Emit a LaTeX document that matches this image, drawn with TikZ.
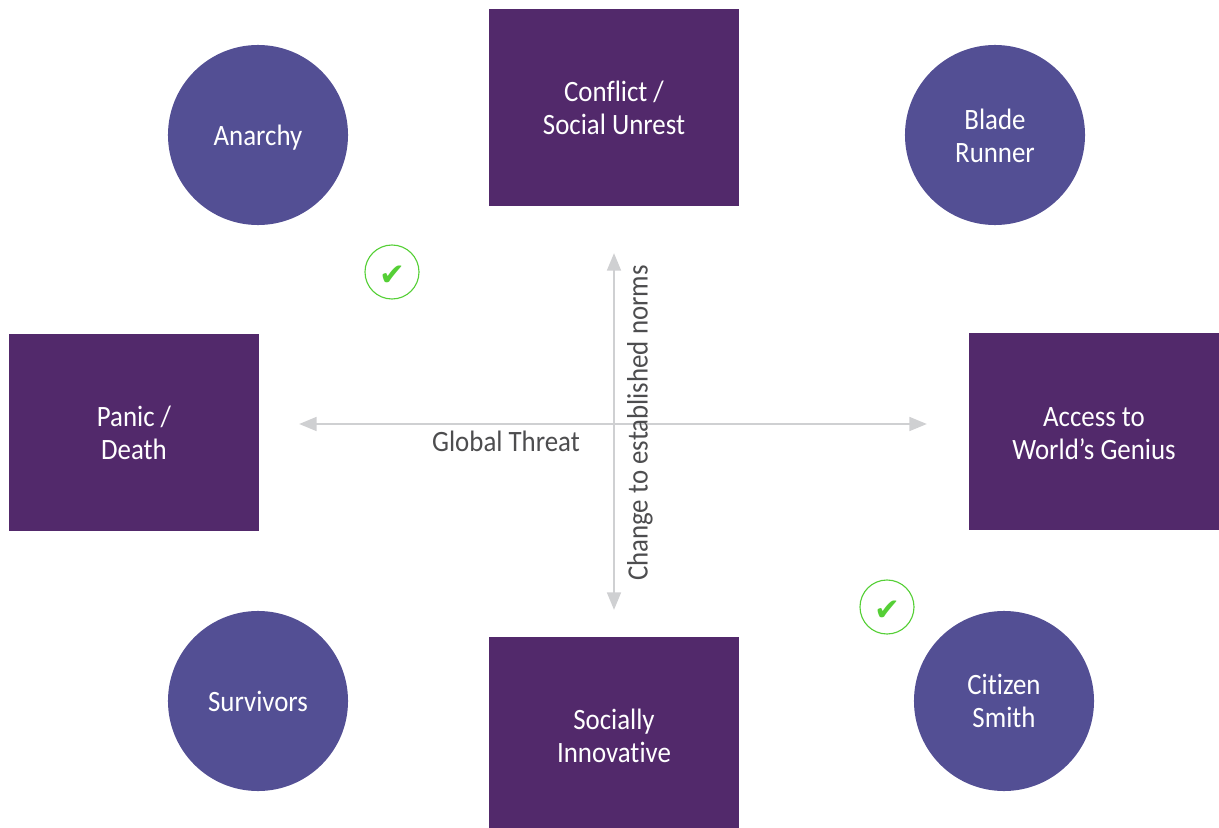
\documentclass[tikz,border=0pt]{standalone}
\usepackage{fontspec}
\usepackage{xcolor}
\setmainfont{Carlito}[FakeStretch=0.91,Ligatures=NoCommon]
\newfontfamily\symbolfont{DejaVu Sans}
\usetikzlibrary{arrows.meta}
\definecolor{boxpurple}{HTML}{52296B}
\definecolor{circleblue}{HTML}{534F94}
\definecolor{axisgray}{HTML}{CFD0D2}
\definecolor{labelgray}{HTML}{4D4D4F}
\definecolor{checkgreen}{HTML}{55CF36}

\begin{document}
\begin{tikzpicture}[
    x=0.025cm, y=-0.025cm,
    factor/.style={rectangle, fill=boxpurple, text=white, minimum width=6.25cm, minimum height=4.925cm, align=center, font=\fontsize{21}{23.5}\selectfont},
    scenario/.style={circle, fill=circleblue, text=white, minimum size=4.5cm, align=center, font=\fontsize{21}{23.5}\selectfont},
    tick/.style={circle, draw=checkgreen, thick, text=checkgreen, minimum size=1.35cm, inner sep=0pt, text height=19pt, text depth=0pt, font=\symbolfont\fontsize{22}{22}\selectfont},
    axis/.style={line width=2pt, axisgray, {Triangle[length=0.44cm,width=0.34cm]}-{Triangle[length=0.44cm,width=0.34cm]}},
    axislabel/.style={text=labelgray, font=\fontsize{21}{23.5}\selectfont}
]
\useasboundingbox (0,0) rectangle (1219,828);

% Axes
\coordinate (left) at (299,424);
\coordinate (right) at (927,424);
\coordinate (up) at (614,253);
\coordinate (down) at (614,610);
\draw[axis] (left) -- (right);
\draw[axis] (up) -- (down);

% Factors
\node[factor] (conflict) at (614,107.5) {Conflict /\\Social Unrest};
\node[factor] (panic) at (134,432.5) {Panic /\\Death};
\node[factor, text height=39.4pt, text depth=0pt] (access) at (1094,431.5) {Access to\\World’s Genius};
\node[factor, minimum height=4.775cm, text height=42.4pt, text depth=0pt] (social) at (614,732.5) {Socially\\Innovative};

% Scenarios
\node[scenario, text depth=0pt] (anarchy) at (258,135) {Anarchy};
\node[scenario, text height=39.4pt, text depth=0pt] (blade) at (995,135) {Blade\\Runner};
\node[scenario] (survivors) at (258,701) {Survivors};
\node[scenario] (citizen) at (1004,701) {Citizen\\Smith};

% Ticks
\node[tick] (tick1) at (392,272) {✔};
\node[tick] (tick2) at (887,607) {✔};

% Axis labels
\node[axislabel] (threat) at (506,441) {Global Threat};
\node[axislabel, rotate=90] (change) at (640,423) {Change to established norms};

\end{tikzpicture}
\end{document}
